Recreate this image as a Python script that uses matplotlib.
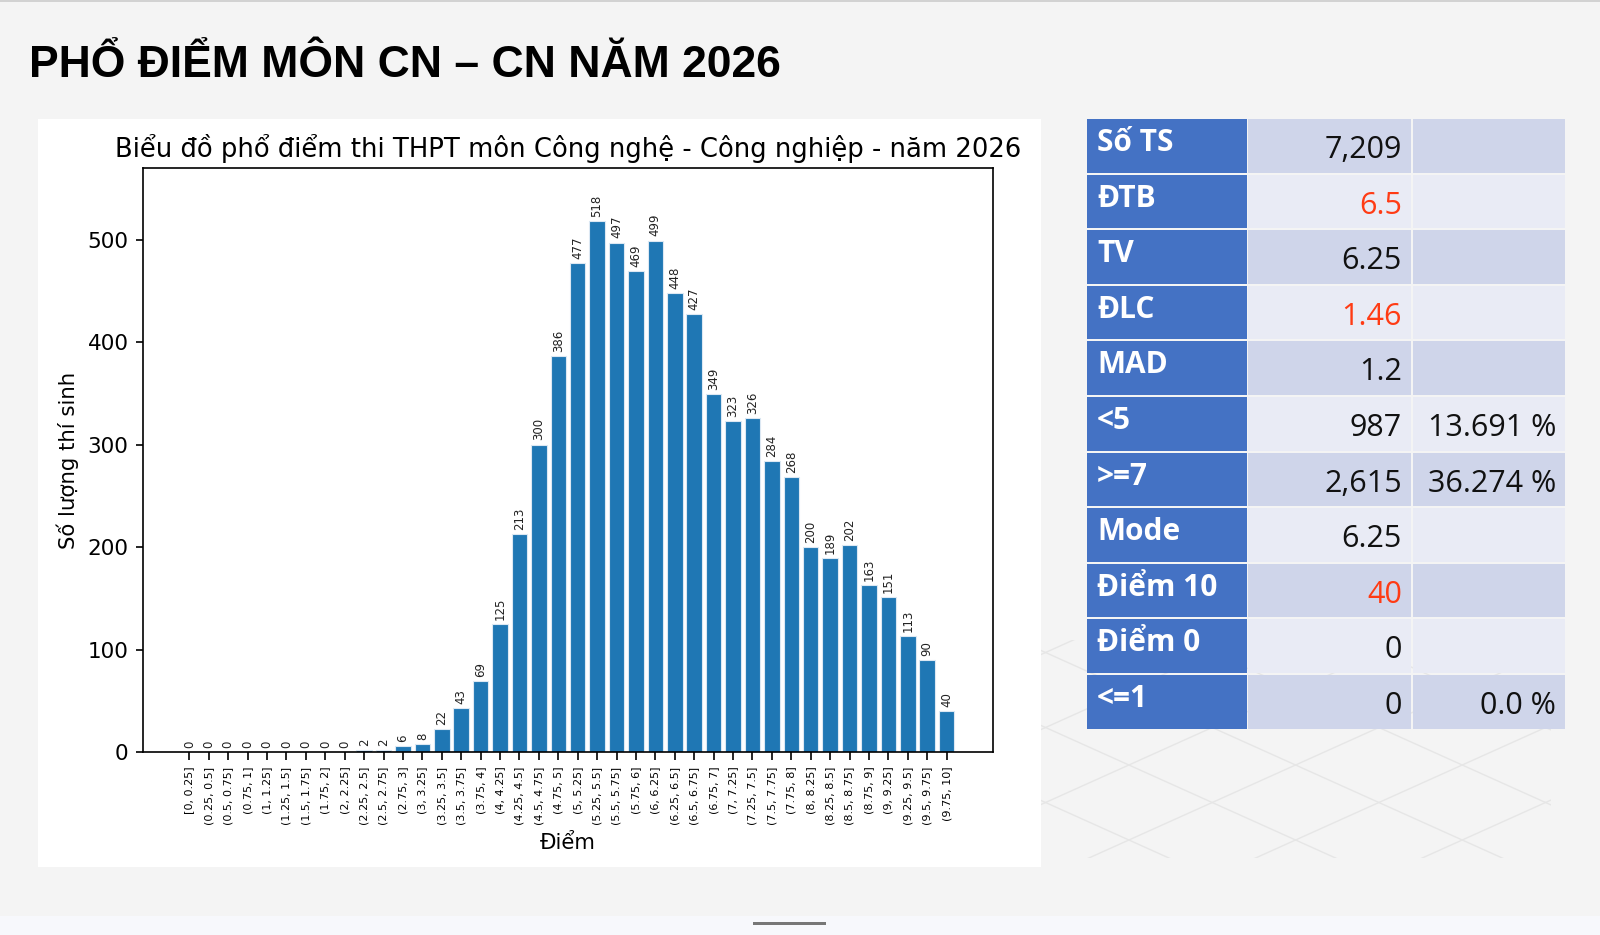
import matplotlib
matplotlib.use("Agg")
import matplotlib.pyplot as plt
from matplotlib.patches import Rectangle
import numpy as np

# ---------------- data ----------------
bins = ["[0, 0.25]", "(0.25, 0.5]", "(0.5, 0.75]", "(0.75, 1]", "(1, 1.25]",
        "(1.25, 1.5]", "(1.5, 1.75]", "(1.75, 2]", "(2, 2.25]", "(2.25, 2.5]",
        "(2.5, 2.75]", "(2.75, 3]", "(3, 3.25]", "(3.25, 3.5]", "(3.5, 3.75]",
        "(3.75, 4]", "(4, 4.25]", "(4.25, 4.5]", "(4.5, 4.75]", "(4.75, 5]",
        "(5, 5.25]", "(5.25, 5.5]", "(5.5, 5.75]", "(5.75, 6]", "(6, 6.25]",
        "(6.25, 6.5]", "(6.5, 6.75]", "(6.75, 7]", "(7, 7.25]", "(7.25, 7.5]",
        "(7.5, 7.75]", "(7.75, 8]", "(8, 8.25]", "(8.25, 8.5]", "(8.5, 8.75]",
        "(8.75, 9]", "(9, 9.25]", "(9.25, 9.5]", "(9.5, 9.75]", "(9.75, 10]"]
counts = [0, 0, 0, 0, 0, 0, 0, 0, 0, 2,
          2, 6, 8, 22, 43, 69, 125, 213, 300, 386,
          477, 518, 497, 469, 499, 448, 427, 349, 323, 326,
          284, 268, 200, 189, 202, 163, 151, 113, 90, 40]

stat_labels = ["Số TS", "ĐTB", "TV", "ĐLC", "MAD", "<5", ">=7", "Mode",
               "Điểm 10", "Điểm 0", "<=1"]
stat_values = ["7,209", "6.5", "6.25", "1.46", "1.2", "987", "2,615", "6.25",
               "40", "0", "0"]
stat_pcts = ["", "", "", "", "", "13.691 %", "36.274 %", "", "", "", "0.0 %"]
stat_red = [False, True, False, True, False, False, False, False, True, False, False]

page_title = "PHỔ ĐIỂM MÔN CN – CN NĂM 2026"
chart_title = "Biểu đồ phổ điểm thi THPT môn Công nghệ - Công nghiệp - năm 2026"
x_label = "Điểm"
y_label = "Số lượng thí sinh"

# ---------------- figure ----------------
W, H = 1600, 935
fig = plt.figure(figsize=(16, 9.35), dpi=100)
fig.patch.set_facecolor("#f4f4f4")

bg = fig.add_axes([0, 0, 1, 1], zorder=0)
bg.set_xlim(0, W)
bg.set_ylim(H, 0)
bg.axis("off")

# top line and bottom strip
bg.add_patch(Rectangle((0, 0), W, 2, color="#d2d2d2", lw=0))
bg.add_patch(Rectangle((0, 916), W, 19, color="#f7f8fc", lw=0))
bg.add_patch(Rectangle((753, 922), 73, 3, color="#777777", lw=0))

# faint lattice pattern (behind the table)
clip = Rectangle((1041, 640), 510, 218, transform=bg.transData, visible=False)
bg.add_patch(clip)
xs = np.array([1000, 1600])
for c in range(-400, 1400, 75):
    for s in (0.45, -0.45):
        ln, = bg.plot(xs, s * (xs - 1040) + c + (0 if s > 0 else 230),
                      color="#e6e6e6", lw=1.0, zorder=0.2)
        ln.set_clip_path(clip)

# page title
bg.text(29, 77, page_title, fontsize=32, fontweight="bold",
        family=["Liberation Sans Narrow", "DejaVu Sans Condensed",
                "Liberation Sans", "DejaVu Sans"],
        color="#000000", va="baseline", ha="left", zorder=3)

# white chart panel
bg.add_patch(Rectangle((38, 119), 1003, 748, color="white", lw=0, zorder=1))

# ---------------- table ----------------
col_x = [1087, 1248, 1413]
col_w = [160, 163, 152]
top = 119
pitch = 55.6
for i, lab in enumerate(stat_labels):
    y0 = top + i * pitch
    h = pitch - 2
    rowc = "#cfd5ea" if i % 2 == 0 else "#e9ebf5"
    bg.add_patch(Rectangle((col_x[0], y0), col_w[0], h, color="#4472c4", lw=0, zorder=1))
    bg.add_patch(Rectangle((col_x[1], y0), col_w[1], h, color=rowc, lw=0, zorder=1))
    bg.add_patch(Rectangle((col_x[2], y0), col_w[2], h, color=rowc, lw=0, zorder=1))
    bg.text(col_x[0] + 10, y0 + 32, lab, fontsize=21.5, fontweight="bold",
            family=["Open Sans", "DejaVu Sans"], color="white",
            ha="left", va="baseline", zorder=3)
    bg.text(col_x[1] + col_w[1] - 9, y0 + 39, stat_values[i], fontsize=22,
            family=["Open Sans", "DejaVu Sans"],
            color="#ff3b14" if stat_red[i] else "#111111",
            ha="right", va="baseline", zorder=3)
    if stat_pcts[i]:
        bg.text(col_x[2] + col_w[2] - 9, y0 + 39, stat_pcts[i], fontsize=22,
                family=["Open Sans", "DejaVu Sans"], color="#111111",
                ha="right", va="baseline", zorder=3)

# ---------------- chart ----------------
L, R, T, B = 143, 993, 168, 752
ax = fig.add_axes([L / W, 1 - B / H, (R - L) / W, (B - T) / H], zorder=2)
ax.set_facecolor("white")
x = np.arange(len(bins))
bars = ax.bar(x, counts, width=0.8, color="#1f77b4", edgecolor="#dce8f3",
              linewidth=0.8)
ax.bar_label(bars, labels=[str(v) for v in counts], rotation=90, padding=3,
             fontsize=8.5, color="#222222")
ax.set_ylim(0, max(counts) * 1.1)
ax.set_xticks(x)
ax.set_xticklabels(bins, rotation=90, fontsize=8)
ax.tick_params(axis="y", labelsize=15.5, length=5.4, width=1.2, pad=5)
ax.tick_params(axis="x", length=5.4, width=1.2, pad=5)
for sp in ax.spines.values():
    sp.set_linewidth(1.2)
ax.set_title(chart_title, fontsize=18.6, pad=8)
ax.set_xlabel(x_label, fontsize=15.3, labelpad=6)
ax.set_ylabel(y_label, fontsize=15.3, labelpad=6)

fig.savefig("out.png", dpi=100, facecolor=fig.get_facecolor())
